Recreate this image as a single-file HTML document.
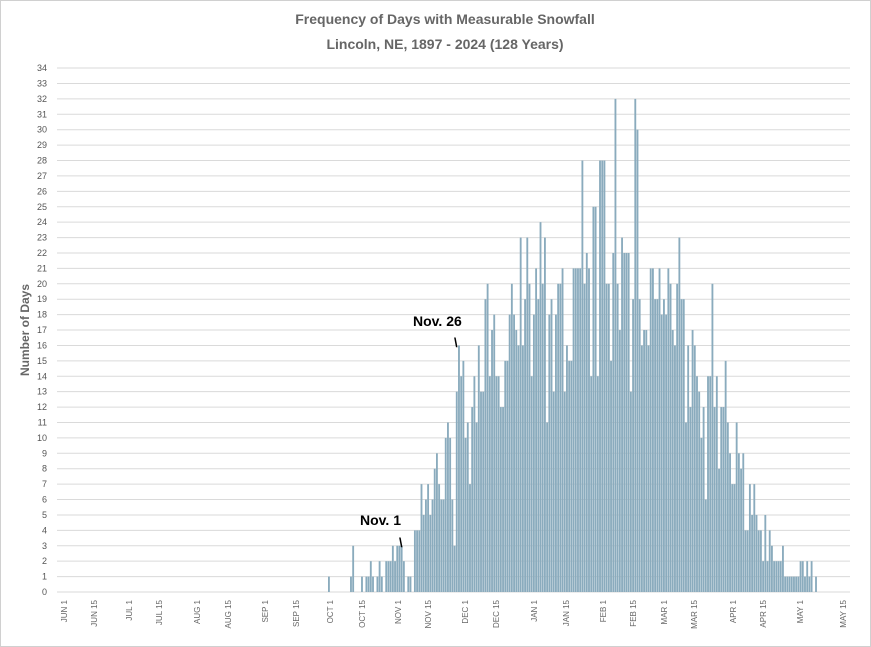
<!DOCTYPE html>
<html><head><meta charset="utf-8"><style>
html,body{margin:0;padding:0;background:#fff}
svg{display:block}
</style></head><body>
<svg id="c" width="871" height="647" xmlns="http://www.w3.org/2000/svg" font-family="Liberation Sans, sans-serif">
<rect x="0.5" y="0.5" width="870" height="646" fill="#fff" stroke="#d0d0d0"/>
<text x="445" y="24" text-anchor="middle" font-size="14" font-weight="bold" fill="#666">Frequency of Days with Measurable Snowfall</text>
<text x="445" y="49" text-anchor="middle" font-size="14" font-weight="bold" fill="#666">Lincoln, NE, 1897 - 2024 (128 Years)</text>
<text transform="translate(29,330) rotate(-90)" text-anchor="middle" font-size="12" font-weight="bold" fill="#666">Number of Days</text>
<g id="grid"></g>
<g id="bars"></g>
<g id="xl"></g>
<text x="360" y="525" font-size="14" font-weight="bold" fill="#000">Nov. 1</text>
<text x="399" y="547" font-size="13" font-weight="bold" fill="#000">\</text>
<text x="413" y="326" font-size="14" font-weight="bold" fill="#000">Nov. 26</text>
<text x="454" y="347" font-size="13" font-weight="bold" fill="#000">\</text>
</svg>
<script>
var NS="http://www.w3.org/2000/svg";
function el(p,t,a,txt){var e=document.createElementNS(NS,t);for(var k in a)e.setAttribute(k,a[k]);if(txt!==undefined)e.textContent=txt;p.appendChild(e);return e;}
var y0=592,u=15.41;
var g=document.getElementById('grid');
for(var i=0;i<=34;i++){var y=y0-i*u;
 el(g,'line',{x1:57,x2:850,y1:y,y2:y,stroke:'#dadada','stroke-width':1});
 el(g,'text',{x:47,y:y+3,'text-anchor':'end','font-size':9,fill:'#555'},String(i));}
var pts=[[329,1],[351,1],[353,3],[362,1],[366,1],[368,1],[370,2],[372,1],[377,1],[380,2],[382,1],[386,2],[388,2],[390,2],[392,2],[394,3],[396,2],[398,3],[400,3],[402,3],[404,2],[409,1],[411,1],
[414,5],[416,4],[418,4],[421,7],[423,5],[425,7],[427,6],[429,7],[431,5],[433,6],[435,8],[437,9],[440,7],[442,6],[444,6],[446,10],[448,11],[450,10],[452,6],[455,3],[457,13],[459,16],[461,14],[463,15],[465,10],[468,11],[470,7],[472,12],[475,14],[477,11],[479,16],[481,13],[483,13],[486,19],[488,20],[490,14],[492,17],[494,18],[497,14],[500,23],[502,12],[504,12],[506,15],[509,18],[511,16],[513,20],[515,18],[517,17],[519,16],[521,23],[523,16],[525,19],[528,23],[530,20],[532,14],[534,18],[537,21],[539,19],[541,24],[543,20],[545,23],[548,11],[550,18],[552,19],[554,13],[557,18],[559,20],[561,20],[563,21],[565,13],[568,16],[570,15],[573,21],[575,21],[577,25],[579,21],[582,28],[584,20],[586,22],[589,21],[591,14],[593,25],[595,25],[597,14],[599,17],[601,28],[604,28],[606,20],[609,20],[611,15],[613,22],[615,32],[617,20],[619,17],[622,23],[624,22],[626,22],[629,22],[631,13],[633,19],[635,32],[637,30],[639,19],[641,16],[645,17],[647,17],[649,16],[651,21],[653,21],[655,19],[657,19],[660,21],[662,18],[664,19],[666,18],[669,21],[671,20],[673,17],[675,16],[677,20],[679,23],[682,19],[685,11],[688,16],[691,12],[693,17],[695,16],[697,14],[700,13],[702,10],[704,12],[706,6],[709,14],[712,20],[714,12],[716,10],[718,14],[720,8],[722,12],[725,15],[727,8],[729,11],[731,9],[733,7],[736,11],[738,3],[740,9],[742,8],[744,9],[746,4],[749,3],[751,7],[753,5],[755,7],[757,5],[759,4],[761,4],[763,2],[765,5],[767,2],[769,4],[771,5],[773,3],[775,2],[777,2],[783,3],[785,1],[787,1],[790,1],[792,1],[794,1],[797,1],[799,1],[801,2],[803,2],[806,1],[808,2],[810,1],[812,2],[817,1]];
var st=2.204,x0=329,N=223,v=new Array(N).fill(-1);
pts.forEach(function(p){var k=Math.round((p[0]-x0)/st);if(k>=0&&k<N)v[k]=p[1];});
var lo=Math.round((414-x0)/st),hi=Math.round((812-x0)/st);
for(var k=lo;k<=hi;k++){if(v[k]<0)v[k]=v[k-1]>0?v[k-1]:1;}
var b=document.getElementById('bars');
for(var k=0;k<N;k++){if(v[k]>0){var h=v[k]*u;el(b,'rect',{x:(x0+k*st-1).toFixed(2),y:(y0-h).toFixed(2),width:1.85,height:h.toFixed(2),fill:'#8aabbd'});}}
var labs=[["JUN 1",64],["JUN 15",94],["JUL 1",129],["JUL 15",159],["AUG 1",197],["AUG 15",228],["SEP 1",265],["SEP 15",296],["OCT 1",330],["OCT 15",362],["NOV 1",398],["NOV 15",428],["DEC 1",465],["DEC 15",496],["JAN 1",534],["JAN 15",566],["FEB 1",603],["FEB 15",633],["MAR 1",664],["MAR 15",694],["APR 1",733],["APR 15",763],["MAY 1",800],["MAY 15",843]];
var xl=document.getElementById('xl');
labs.forEach(function(l){el(xl,'text',{transform:'translate('+(l[1]+3)+',600) rotate(-90)','text-anchor':'end','font-size':8,fill:'#666'},l[0]);});
</script>
</body></html>
